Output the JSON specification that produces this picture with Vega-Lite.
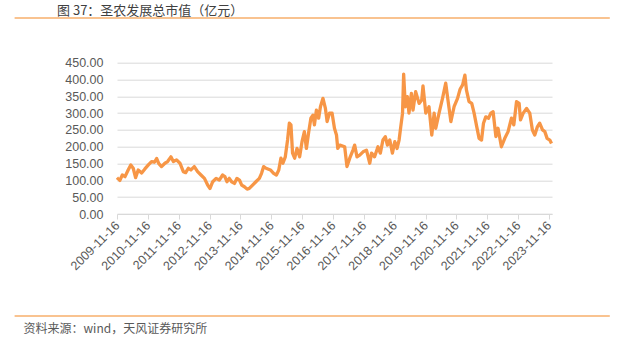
{
  "$schema": "https://vega.github.io/schema/vega-lite/v6.json",
  "width": 435,
  "height": 151.3,
  "autosize": {"type": "none"},
  "padding": {"left": 117, "top": 62.7, "right": 65, "bottom": 138},
  "background": "white",
  "config": {"view": {"stroke": null}, "font": "Liberation Sans"},
  "title": {"text": "图 37：圣农发展总市值（亿元）", "anchor": "start", "frame": "group", "dx": -60, "offset": -1, "font": "Noto Sans CJK SC", "fontSize": 13, "fontWeight": "normal", "color": "#404040"},
  "layer": [
    {
      "data": {"values": [
        {"date": "2009-11-16", "value": 108}, {"date": "2009-11-24", "value": 106}, {"date": "2009-12-20", "value": 100},
        {"date": "2010-01-18", "value": 116}, {"date": "2010-02-19", "value": 111}, {"date": "2010-03-28", "value": 131},
        {"date": "2010-04-28", "value": 146}, {"date": "2010-05-27", "value": 136}, {"date": "2010-06-24", "value": 108},
        {"date": "2010-07-25", "value": 131}, {"date": "2010-09-04", "value": 122}, {"date": "2010-10-12", "value": 134},
        {"date": "2010-11-22", "value": 146}, {"date": "2010-12-30", "value": 156}, {"date": "2011-02-02", "value": 154},
        {"date": "2011-02-28", "value": 165}, {"date": "2011-03-26", "value": 150}, {"date": "2011-04-27", "value": 141},
        {"date": "2011-06-06", "value": 151}, {"date": "2011-07-08", "value": 156}, {"date": "2011-08-16", "value": 170},
        {"date": "2011-09-14", "value": 156}, {"date": "2011-10-22", "value": 161}, {"date": "2011-12-01", "value": 151},
        {"date": "2012-01-10", "value": 126}, {"date": "2012-02-07", "value": 123}, {"date": "2012-03-09", "value": 136},
        {"date": "2012-04-09", "value": 131}, {"date": "2012-05-19", "value": 141}, {"date": "2012-06-27", "value": 126},
        {"date": "2012-08-06", "value": 116}, {"date": "2012-09-16", "value": 106}, {"date": "2012-10-24", "value": 86},
        {"date": "2012-11-21", "value": 76}, {"date": "2012-12-23", "value": 96}, {"date": "2013-02-01", "value": 106},
        {"date": "2013-03-11", "value": 101}, {"date": "2013-04-19", "value": 116}, {"date": "2013-05-16", "value": 111},
        {"date": "2013-06-09", "value": 96}, {"date": "2013-07-07", "value": 106}, {"date": "2013-08-04", "value": 96},
        {"date": "2013-09-06", "value": 91}, {"date": "2013-10-06", "value": 106}, {"date": "2013-11-04", "value": 101},
        {"date": "2013-12-01", "value": 86}, {"date": "2014-01-02", "value": 81}, {"date": "2014-02-03", "value": 74},
        {"date": "2014-03-01", "value": 76}, {"date": "2014-04-09", "value": 86}, {"date": "2014-05-18", "value": 96},
        {"date": "2014-06-28", "value": 106}, {"date": "2014-07-24", "value": 121}, {"date": "2014-08-18", "value": 141},
        {"date": "2014-09-15", "value": 136}, {"date": "2014-11-06", "value": 131}, {"date": "2014-12-14", "value": 121},
        {"date": "2015-01-16", "value": 116}, {"date": "2015-02-13", "value": 131}, {"date": "2015-03-10", "value": 166},
        {"date": "2015-04-03", "value": 151}, {"date": "2015-05-01", "value": 170}, {"date": "2015-05-28", "value": 220},
        {"date": "2015-06-18", "value": 270}, {"date": "2015-07-07", "value": 265}, {"date": "2015-07-26", "value": 181},
        {"date": "2015-08-20", "value": 166}, {"date": "2015-09-17", "value": 195}, {"date": "2015-10-18", "value": 170},
        {"date": "2015-11-15", "value": 215}, {"date": "2015-12-13", "value": 245}, {"date": "2016-01-06", "value": 195},
        {"date": "2016-02-03", "value": 245}, {"date": "2016-02-28", "value": 285}, {"date": "2016-03-23", "value": 294},
        {"date": "2016-04-10", "value": 265}, {"date": "2016-05-03", "value": 309}, {"date": "2016-05-30", "value": 285},
        {"date": "2016-06-20", "value": 319}, {"date": "2016-07-20", "value": 344}, {"date": "2016-08-18", "value": 314},
        {"date": "2016-09-07", "value": 275}, {"date": "2016-10-05", "value": 300}, {"date": "2016-11-05", "value": 300},
        {"date": "2016-12-03", "value": 255}, {"date": "2016-12-27", "value": 235}, {"date": "2017-01-11", "value": 195},
        {"date": "2017-02-05", "value": 205}, {"date": "2017-04-03", "value": 200}, {"date": "2017-04-30", "value": 141},
        {"date": "2017-06-02", "value": 166}, {"date": "2017-07-10", "value": 190}, {"date": "2017-07-30", "value": 205},
        {"date": "2017-08-27", "value": 170}, {"date": "2017-09-28", "value": 175}, {"date": "2017-11-07", "value": 185},
        {"date": "2017-12-17", "value": 190}, {"date": "2018-01-25", "value": 151}, {"date": "2018-02-15", "value": 181},
        {"date": "2018-03-23", "value": 170}, {"date": "2018-05-02", "value": 200}, {"date": "2018-05-30", "value": 181},
        {"date": "2018-06-30", "value": 220}, {"date": "2018-07-28", "value": 230}, {"date": "2018-08-22", "value": 205},
        {"date": "2018-09-19", "value": 220}, {"date": "2018-10-20", "value": 181}, {"date": "2018-11-17", "value": 215},
        {"date": "2018-12-14", "value": 195}, {"date": "2019-01-07", "value": 220}, {"date": "2019-01-27", "value": 260},
        {"date": "2019-02-17", "value": 300}, {"date": "2019-03-02", "value": 416}, {"date": "2019-03-22", "value": 319},
        {"date": "2019-04-15", "value": 349}, {"date": "2019-05-04", "value": 300}, {"date": "2019-06-02", "value": 359},
        {"date": "2019-06-21", "value": 309}, {"date": "2019-07-22", "value": 364}, {"date": "2019-09-01", "value": 329},
        {"date": "2019-10-02", "value": 339}, {"date": "2019-10-17", "value": 381}, {"date": "2019-11-19", "value": 300},
        {"date": "2019-12-27", "value": 319}, {"date": "2020-01-29", "value": 235}, {"date": "2020-02-26", "value": 300},
        {"date": "2020-03-16", "value": 255}, {"date": "2020-04-24", "value": 300}, {"date": "2020-06-04", "value": 344},
        {"date": "2020-07-12", "value": 389}, {"date": "2020-08-02", "value": 349}, {"date": "2020-09-11", "value": 275},
        {"date": "2020-10-19", "value": 319}, {"date": "2020-11-29", "value": 344}, {"date": "2020-12-29", "value": 371},
        {"date": "2021-01-28", "value": 384}, {"date": "2021-02-24", "value": 413}, {"date": "2021-03-14", "value": 369},
        {"date": "2021-04-14", "value": 334}, {"date": "2021-05-16", "value": 329}, {"date": "2021-06-13", "value": 300},
        {"date": "2021-07-14", "value": 260}, {"date": "2021-08-11", "value": 225}, {"date": "2021-09-09", "value": 220},
        {"date": "2021-10-02", "value": 270}, {"date": "2021-10-29", "value": 289}, {"date": "2021-12-01", "value": 285},
        {"date": "2021-12-28", "value": 300}, {"date": "2022-01-24", "value": 304}, {"date": "2022-02-26", "value": 230},
        {"date": "2022-03-23", "value": 255}, {"date": "2022-05-02", "value": 200}, {"date": "2022-06-11", "value": 225},
        {"date": "2022-07-20", "value": 245}, {"date": "2022-08-29", "value": 285}, {"date": "2022-09-26", "value": 265},
        {"date": "2022-10-28", "value": 334}, {"date": "2022-11-28", "value": 329}, {"date": "2022-12-14", "value": 280},
        {"date": "2023-01-15", "value": 300}, {"date": "2023-02-24", "value": 314}, {"date": "2023-04-03", "value": 300},
        {"date": "2023-05-04", "value": 250}, {"date": "2023-06-01", "value": 235}, {"date": "2023-07-03", "value": 260},
        {"date": "2023-07-29", "value": 270}, {"date": "2023-09-01", "value": 250}, {"date": "2023-09-28", "value": 245},
        {"date": "2023-10-25", "value": 225}, {"date": "2023-11-26", "value": 220}, {"date": "2023-12-16", "value": 210}
      ]},
      "mark": {"type": "line", "color": "#F79646", "strokeWidth": 3.3, "strokeJoin": "round"},
      "encoding": {
        "x": {
          "field": "date", "type": "temporal",
          "scale": {"type": "utc", "domain": [{"year": 2009, "month": 11, "date": 16, "utc": true}, {"year": 2023, "month": 12, "date": 22, "utc": true}]},
          "axis": {
            "values": [
              {"year": 2009, "month": 11, "date": 16, "utc": true}, {"year": 2010, "month": 11, "date": 16, "utc": true},
              {"year": 2011, "month": 11, "date": 16, "utc": true}, {"year": 2012, "month": 11, "date": 16, "utc": true},
              {"year": 2013, "month": 11, "date": 16, "utc": true}, {"year": 2014, "month": 11, "date": 16, "utc": true},
              {"year": 2015, "month": 11, "date": 16, "utc": true}, {"year": 2016, "month": 11, "date": 16, "utc": true},
              {"year": 2017, "month": 11, "date": 16, "utc": true}, {"year": 2018, "month": 11, "date": 16, "utc": true},
              {"year": 2019, "month": 11, "date": 16, "utc": true}, {"year": 2020, "month": 11, "date": 16, "utc": true},
              {"year": 2021, "month": 11, "date": 16, "utc": true}, {"year": 2022, "month": 11, "date": 16, "utc": true},
              {"year": 2023, "month": 11, "date": 16, "utc": true}
            ],
            "format": "%Y-%m-%d",
            "labelAngle": -45, "labelAlign": "right", "labelBaseline": "middle",
            "labelFontSize": 12.5, "labelColor": "#595959", "labelPadding": 4, "labelOverlap": false, "labelFlush": false,
            "grid": false, "domainColor": "#D9D9D9", "tickColor": "#D9D9D9", "tickSize": 5,
            "title": "资料来源：wind，天风证券研究所", "titleFont": "Noto Sans CJK SC", "titleFontSize": 12, "titleFontWeight": "normal",
            "titleColor": "#595959", "titleAnchor": "start", "titleAlign": "left", "titleBaseline": "middle", "titleX": -94, "titleY": 114
          }
        },
        "y": {
          "field": "value", "type": "quantitative",
          "scale": {"domain": [0, 450], "nice": false, "zero": false},
          "axis": {
            "values": [0, 50, 100, 150, 200, 250, 300, 350, 400, 450],
            "format": ".2f", "grid": true, "gridColor": "#D9D9D9", "domain": false, "ticks": false,
            "labelPadding": 14, "labelFontSize": 12.5, "labelColor": "#595959", "title": null
          }
        }
      }
    },
    {
      "data": {"values": [{}]},
      "mark": {"type": "rule", "color": "#F9C390", "strokeWidth": 2, "clip": false},
      "encoding": {
        "x": {"datum": {"year": 2006, "month": 7, "date": 23, "utc": true}, "type": "temporal",
          "scale": {"type": "utc", "domain": [{"year": 2009, "month": 11, "date": 16, "utc": true}, {"year": 2023, "month": 12, "date": 22, "utc": true}]},
          "axis": {
            "values": [
              {"year": 2009, "month": 11, "date": 16, "utc": true}, {"year": 2010, "month": 11, "date": 16, "utc": true},
              {"year": 2011, "month": 11, "date": 16, "utc": true}, {"year": 2012, "month": 11, "date": 16, "utc": true},
              {"year": 2013, "month": 11, "date": 16, "utc": true}, {"year": 2014, "month": 11, "date": 16, "utc": true},
              {"year": 2015, "month": 11, "date": 16, "utc": true}, {"year": 2016, "month": 11, "date": 16, "utc": true},
              {"year": 2017, "month": 11, "date": 16, "utc": true}, {"year": 2018, "month": 11, "date": 16, "utc": true},
              {"year": 2019, "month": 11, "date": 16, "utc": true}, {"year": 2020, "month": 11, "date": 16, "utc": true},
              {"year": 2021, "month": 11, "date": 16, "utc": true}, {"year": 2022, "month": 11, "date": 16, "utc": true},
              {"year": 2023, "month": 11, "date": 16, "utc": true}
            ],
            "format": "%Y-%m-%d",
            "labelAngle": -45, "labelAlign": "right", "labelBaseline": "middle",
            "labelFontSize": 12.5, "labelColor": "#595959", "labelPadding": 4, "labelOverlap": false, "labelFlush": false,
            "grid": false, "domainColor": "#D9D9D9", "tickColor": "#D9D9D9", "tickSize": 5,
            "title": "资料来源：wind，天风证券研究所", "titleFont": "Noto Sans CJK SC", "titleFontSize": 12, "titleFontWeight": "normal",
            "titleColor": "#595959", "titleAnchor": "start", "titleAlign": "left", "titleBaseline": "middle", "titleX": -94, "titleY": 114
          }
        },
        "x2": {"datum": {"year": 2025, "month": 11, "date": 5, "utc": true}},
        "y": {"datum": 583, "type": "quantitative",
          "scale": {"domain": [0, 450], "nice": false, "zero": false},
          "axis": {
            "values": [0, 50, 100, 150, 200, 250, 300, 350, 400, 450],
            "format": ".2f", "grid": true, "gridColor": "#D9D9D9", "domain": false, "ticks": false,
            "labelPadding": 14, "labelFontSize": 12.5, "labelColor": "#595959", "title": null
          }
        }
      }
    },
    {
      "data": {"values": [{}]},
      "mark": {"type": "rule", "color": "#F9C390", "strokeWidth": 2, "clip": false},
      "encoding": {
        "x": {"datum": {"year": 2006, "month": 7, "date": 23, "utc": true}, "type": "temporal",
          "scale": {"type": "utc", "domain": [{"year": 2009, "month": 11, "date": 16, "utc": true}, {"year": 2023, "month": 12, "date": 22, "utc": true}]},
          "axis": {
            "values": [
              {"year": 2009, "month": 11, "date": 16, "utc": true}, {"year": 2010, "month": 11, "date": 16, "utc": true},
              {"year": 2011, "month": 11, "date": 16, "utc": true}, {"year": 2012, "month": 11, "date": 16, "utc": true},
              {"year": 2013, "month": 11, "date": 16, "utc": true}, {"year": 2014, "month": 11, "date": 16, "utc": true},
              {"year": 2015, "month": 11, "date": 16, "utc": true}, {"year": 2016, "month": 11, "date": 16, "utc": true},
              {"year": 2017, "month": 11, "date": 16, "utc": true}, {"year": 2018, "month": 11, "date": 16, "utc": true},
              {"year": 2019, "month": 11, "date": 16, "utc": true}, {"year": 2020, "month": 11, "date": 16, "utc": true},
              {"year": 2021, "month": 11, "date": 16, "utc": true}, {"year": 2022, "month": 11, "date": 16, "utc": true},
              {"year": 2023, "month": 11, "date": 16, "utc": true}
            ],
            "format": "%Y-%m-%d",
            "labelAngle": -45, "labelAlign": "right", "labelBaseline": "middle",
            "labelFontSize": 12.5, "labelColor": "#595959", "labelPadding": 4, "labelOverlap": false, "labelFlush": false,
            "grid": false, "domainColor": "#D9D9D9", "tickColor": "#D9D9D9", "tickSize": 5,
            "title": "资料来源：wind，天风证券研究所", "titleFont": "Noto Sans CJK SC", "titleFontSize": 12, "titleFontWeight": "normal",
            "titleColor": "#595959", "titleAnchor": "start", "titleAlign": "left", "titleBaseline": "middle", "titleX": -94, "titleY": 114
          }
        },
        "x2": {"datum": {"year": 2025, "month": 11, "date": 5, "utc": true}},
        "y": {"datum": -303, "type": "quantitative",
          "scale": {"domain": [0, 450], "nice": false, "zero": false},
          "axis": {
            "values": [0, 50, 100, 150, 200, 250, 300, 350, 400, 450],
            "format": ".2f", "grid": true, "gridColor": "#D9D9D9", "domain": false, "ticks": false,
            "labelPadding": 14, "labelFontSize": 12.5, "labelColor": "#595959", "title": null
          }
        }
      }
    }
  ]
}
